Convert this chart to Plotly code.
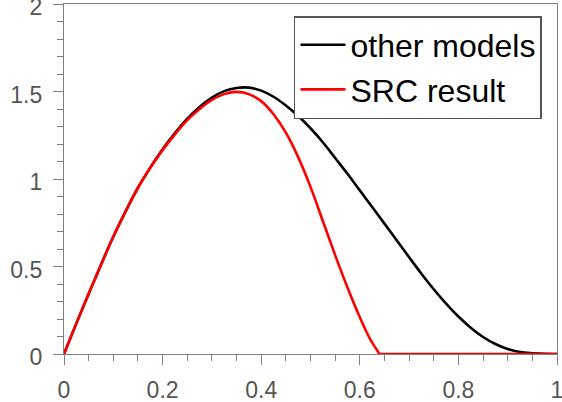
import plotly.graph_objects as go

# other models (black)
x_other = [0, 0.025, 0.05, 0.075, 0.1, 0.125, 0.15, 0.175, 0.2, 0.225, 0.25, 0.275, 0.3,
           0.325, 0.35, 0.375, 0.4, 0.425, 0.45, 0.475, 0.5, 0.525, 0.55, 0.575, 0.6,
           0.625, 0.65, 0.675, 0.7, 0.725, 0.75, 0.775, 0.8, 0.825, 0.85, 0.875, 0.9,
           0.925, 0.95, 0.975, 1.0]
y_other = [0, 0.175, 0.345, 0.51, 0.67, 0.815, 0.95, 1.065, 1.17, 1.262, 1.345, 1.412, 1.465,
           1.502, 1.52, 1.522, 1.505, 1.47, 1.42, 1.36, 1.29, 1.21, 1.12, 1.03, 0.935,
           0.84, 0.745, 0.649, 0.553, 0.459, 0.37, 0.288, 0.214, 0.15, 0.097, 0.057, 0.028,
           0.011, 0.004, 0.0005, 0.0]

# SRC result (red)
x_src = [0, 0.025, 0.05, 0.075, 0.1, 0.125, 0.15, 0.175, 0.2, 0.225, 0.25, 0.275, 0.3,
         0.325, 0.35, 0.375, 0.4, 0.425, 0.45, 0.475, 0.5, 0.525, 0.55, 0.575, 0.6,
         0.62, 0.64, 0.7, 0.8, 0.9, 1.0]
y_src = [0, 0.175, 0.345, 0.51, 0.67, 0.815, 0.95, 1.064, 1.165, 1.255, 1.336, 1.40, 1.452,
         1.485, 1.498, 1.485, 1.445, 1.37, 1.265, 1.125, 0.955, 0.76, 0.565, 0.38, 0.21,
         0.09, 0.0, 0.0, 0.0, 0.0, 0.0]

x_ticks = [0, 0.2, 0.4, 0.6, 0.8, 1]
x_tick_labels = ["0", "0.2", "0.4", "0.6", "0.8", "1"]
y_ticks = [0, 0.5, 1, 1.5, 2]
y_tick_labels = ["0", "0.5", "1", "1.5", "2"]

# split the SRC curve into its curved part and its flat zero tail
knee = x_src.index(0.64)

fig = go.Figure()
fig.add_trace(go.Scatter(x=x_other, y=y_other, mode="lines", name="other models",
                         line=dict(color="black", width=2.6, shape="spline", smoothing=1.0)))
fig.add_trace(go.Scatter(x=x_src[:knee + 1], y=y_src[:knee + 1], mode="lines", name="SRC result",
                         legendgroup="src",
                         line=dict(color="#ff0000", width=2.6, shape="spline", smoothing=1.0)))
fig.add_trace(go.Scatter(x=x_src[knee:], y=y_src[knee:], mode="lines", name="SRC result",
                         legendgroup="src", showlegend=False,
                         line=dict(color="#ff0000", width=2.6)))

axis_color = "#808080"
tick_font = dict(family="Liberation Sans, Arial, sans-serif", size=23, color="#555555")

fig.update_layout(
    width=562, height=402,
    margin=dict(l=64, r=5, t=4, b=48, autoexpand=False),
    paper_bgcolor="white", plot_bgcolor="white",
    showlegend=True,
    legend=dict(x=0.4665, y=0.9657, xanchor="left", yanchor="top",
                bgcolor="white", bordercolor="#555555", borderwidth=1.5,
                font=dict(family="Liberation Sans, Arial, sans-serif", size=32, color="black"),
                itemwidth=45, tracegroupgap=0),
)
fig.update_xaxes(range=[0, 1], tickvals=x_ticks, ticktext=x_tick_labels,
                 showgrid=False, zeroline=False, showline=True, linecolor=axis_color,
                 linewidth=1.2, mirror=True, ticks="outside", ticklen=10, tickwidth=1.2,
                 tickcolor=axis_color, tickfont=tick_font, ticklabelstandoff=5,
                 ticklabeloverflow="allow", automargin=False,
                 minor=dict(ticks="outside", ticklen=6, dtick=0.05, tick0=0,
                            tickcolor=axis_color, tickwidth=1.2, showgrid=False))
fig.update_yaxes(range=[0, 2], tickvals=y_ticks, ticktext=y_tick_labels,
                 showgrid=False, zeroline=False, showline=True, linecolor=axis_color,
                 linewidth=1.2, mirror=True, ticks="outside", ticklen=10, tickwidth=1.2,
                 tickcolor=axis_color, tickfont=tick_font, ticklabelstandoff=6,
                 ticklabeloverflow="allow", ticklabelshift=3, automargin=False,
                 minor=dict(ticks="outside", ticklen=6, dtick=0.1, tick0=0,
                            tickcolor=axis_color, tickwidth=1.2, showgrid=False))

fig.write_html("out.html")
